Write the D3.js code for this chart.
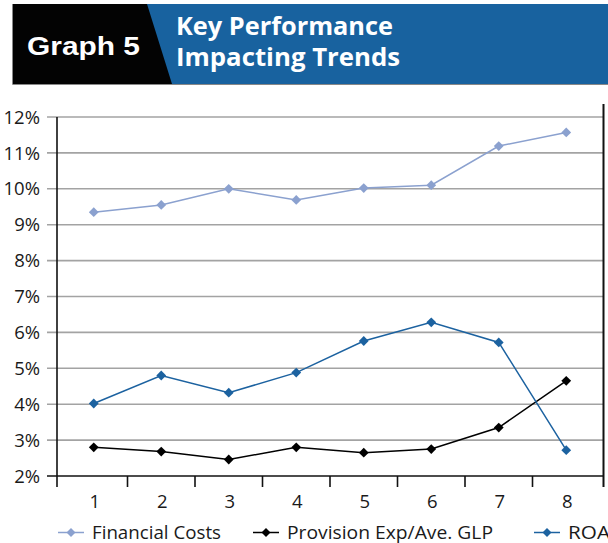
<!DOCTYPE html>
<html><head><meta charset="utf-8">
<script src="https://cdn.jsdelivr.net/npm/d3@7"></script>
<style>html,body{margin:0;padding:0;background:#fff;}svg{display:block;}</style>
</head><body>
<svg id="c" width="608" height="543"></svg>
<script>
const categories = [1,2,3,4,5,6,7,8];
const financialCosts = [9.35, 9.55, 10.0, 9.69, 10.02, 10.1, 11.19, 11.57];
const provisionExp = [2.80, 2.68, 2.46, 2.80, 2.65, 2.75, 3.35, 4.65];
const roa = [4.02, 4.8, 4.32, 4.88, 5.76, 6.28, 5.72, 2.72];
const yTicks = [2,3,4,5,6,7,8,9,10,11,12];
const seriesNames = ["Financial Costs", "Provision Exp/Ave. GLP", "ROA"];
const seriesColors = ["#8ba1cf", "#000000", "#1c62a0"];
const titleLeft = "Graph 5";
const titleRight = ["Key Performance", "Impacting Trends"];

const svg = d3.select("#c");
const font = "'Open Sans', sans-serif";

// Header
svg.append("rect").attr("x",12.5).attr("y",4).attr("width",596).attr("height",80).attr("fill","#18629f");
svg.append("path").attr("d","M12.5,4 L147,4 L172,84 L12.5,84 Z").attr("fill","#030303");
svg.append("path").attr("d","M12.5,4 L12.5,84.5 L608,84.5").attr("fill","none").attr("stroke","#888").attr("stroke-width",1);
svg.append("text").attr("x",27).attr("y",54.5).attr("fill","#fff")
  .attr("font-family","'Liberation Sans', Arial, sans-serif").attr("font-weight","bold").attr("font-size",26.5)
  .attr("textLength",113).attr("lengthAdjust","spacingAndGlyphs")
  .text(titleLeft);
titleRight.forEach((t,i)=>{
  svg.append("text").attr("x",176).attr("y",35+i*30.5).attr("fill","#fff")
    .attr("font-family",font).attr("font-weight","bold").attr("font-size",24.5)
    .attr("textLength", i===0?217:224).attr("lengthAdjust","spacingAndGlyphs")
    .text(t);
});

// Scales
const plotLeft = 57, plotRight = 604, plotTop = 117, plotBottom = 476;
const x = d3.scaleBand().domain(categories).range([60, 600]).paddingInner(0).paddingOuter(0);
const y = d3.scaleLinear().domain([2,12]).range([plotBottom, plotTop]);
const cx = d => x(d) + x.bandwidth()/2;

// Gridlines
const g = svg.append("g");
g.selectAll("line.grid").data(yTicks.slice(1)).join("line")
  .attr("x1",47).attr("x2",plotRight).attr("y1",d=>y(d)).attr("y2",d=>y(d))
  .attr("stroke","#a3a3a3").attr("stroke-width",1.6);

// Y labels
g.selectAll("text.yl").data(yTicks).join("text")
  .attr("x",40).attr("y",d=>y(d)).attr("dy","0.36em").attr("text-anchor","end")
  .attr("font-family",font).attr("font-size",18.5).attr("fill","#1a1a1a")
  .text(d=>d+"%");

// Axes
svg.append("line").attr("x1",plotLeft).attr("x2",plotLeft).attr("y1",plotTop).attr("y2",487).attr("stroke","#111").attr("stroke-width",1.6);
svg.append("line").attr("x1",47).attr("x2",plotRight).attr("y1",plotBottom).attr("y2",plotBottom).attr("stroke","#111").attr("stroke-width",1.6);
svg.append("line").attr("x1",603.5).attr("x2",603.5).attr("y1",104).attr("y2",487).attr("stroke","#111").attr("stroke-width",2);
// x ticks at band boundaries
svg.selectAll("line.xt").data(categories.slice(1)).join("line")
  .attr("x1",d=>x(d)).attr("x2",d=>x(d)).attr("y1",plotBottom).attr("y2",487)
  .attr("stroke","#111").attr("stroke-width",1.6);
svg.selectAll("text.xl").data(categories).join("text")
  .attr("x",d=>cx(d)+1).attr("y",508).attr("text-anchor","middle")
  .attr("font-family",font).attr("font-size",18.5).attr("fill","#1a1a1a")
  .text(d=>d);

// Series
const allSeries = [financialCosts, provisionExp, roa];
const line = d3.line().x((d,i)=>cx(categories[i])).y(d=>y(d));
const diamond = d3.symbol().type(d3.symbolSquare).size(48);
allSeries.forEach((vals,k)=>{
  svg.append("path").attr("d",line(vals)).attr("fill","none")
    .attr("stroke",seriesColors[k]).attr("stroke-width",1.5);
  svg.selectAll("path.m"+k).data(vals).join("path")
    .attr("d",diamond)
    .attr("transform",(d,i)=>`translate(${cx(categories[i])},${y(d)}) rotate(45)`)
    .attr("fill",seriesColors[k]);
});

// Legend
const legendX = [58, 253, 534];
const legendW = [129, 206, 42];
seriesNames.forEach((n,k)=>{
  const lx = legendX[k], ly = 532.5;
  svg.append("line").attr("x1",lx).attr("x2",lx+26).attr("y1",ly).attr("y2",ly)
    .attr("stroke",seriesColors[k]).attr("stroke-width",1.5);
  svg.append("path").attr("d",d3.symbol().type(d3.symbolSquare).size(40))
    .attr("transform",`translate(${lx+13},${ly}) rotate(45)`).attr("fill",seriesColors[k]);
  svg.append("text").attr("x",lx+34).attr("y",ly).attr("dy","0.36em")
    .attr("font-family",font).attr("font-size",18.5).attr("fill","#1a1a1a")
    .attr("textLength",legendW[k]).attr("lengthAdjust","spacingAndGlyphs")
    .text(n);
});
</script>
</body></html>
